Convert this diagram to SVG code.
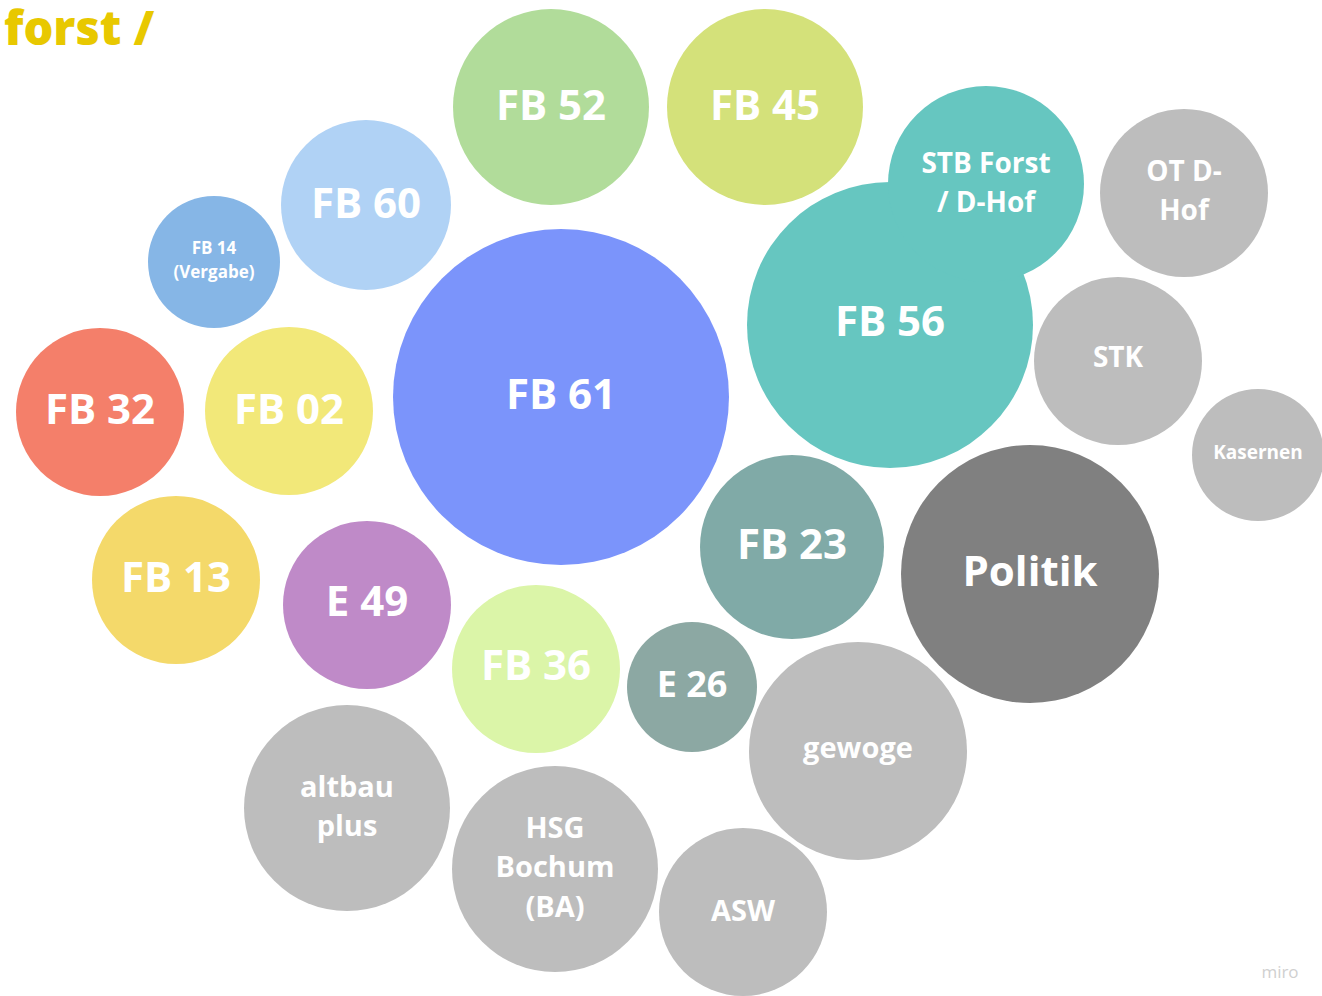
<svg xmlns="http://www.w3.org/2000/svg" width="1322" height="996" viewBox="0 0 1322 996">
<style>
text{font-family:"Open Sans","Noto Sans","Liberation Sans",sans-serif;font-weight:700;fill:#ffffff;text-anchor:middle;dominant-baseline:central}
.gray{fill:#BDBDBD}
.teal{fill:#66C6C0}
</style>
<rect width="1322" height="996" fill="#ffffff"/>
<text x="4" y="45" style="fill:#E8C800;font-size:47px;text-anchor:start;font-weight:800;dominant-baseline:auto">forst /</text>
<g id="fb52"><circle cx="551" cy="107" r="98" fill="#B1DC9A"/><text x="551" y="103" font-size="42">FB 52</text></g>
<g id="fb45"><circle cx="765" cy="107" r="98" fill="#D4E17A"/><text x="765" y="103" font-size="42">FB 45</text></g>
<g id="fb60"><circle cx="366" cy="205" r="85" fill="#B0D2F5"/><text x="366" y="201" font-size="42">FB 60</text></g>
<g id="fb14"><circle cx="214" cy="262" r="66" fill="#86B6E6"/><text x="214" y="247" font-size="17">FB 14</text><text x="214" y="271" font-size="17">(Vergabe)</text></g>
<g id="fb61"><circle cx="561" cy="397" r="168" fill="#7B94FB"/><text x="561" y="392" font-size="42">FB 61</text></g>
<g id="fb56"><circle cx="890" cy="325" r="143" class="teal"/><text x="890" y="319" font-size="42">FB 56</text></g>
<g id="stb"><circle cx="986" cy="184" r="98" class="teal"/><text x="986" y="162" font-size="28">STB Forst</text><text x="986" y="201" font-size="28">/ D-Hof</text></g>
<g id="otdhof"><circle cx="1184" cy="193" r="84" class="gray"/><text x="1184" y="170" font-size="28">OT D-</text><text x="1184" y="209" font-size="28">Hof</text></g>
<g id="stk"><circle cx="1118" cy="361" r="84" class="gray"/><text x="1118" y="356" font-size="28">STK</text></g>
<g id="kasernen"><circle cx="1258" cy="455" r="66" class="gray"/><text x="1258" y="452" font-size="19">Kasernen</text></g>
<g id="fb32"><circle cx="100" cy="412" r="84" fill="#F47F6A"/><text x="100" y="407" font-size="42">FB 32</text></g>
<g id="fb02"><circle cx="289" cy="411" r="84" fill="#F2E879"/><text x="289" y="407" font-size="42">FB 02</text></g>
<g id="fb13"><circle cx="176" cy="580" r="84" fill="#F4D96A"/><text x="176" y="575" font-size="42">FB 13</text></g>
<g id="e49"><circle cx="367" cy="605" r="84" fill="#BF8AC8"/><text x="367" y="599" font-size="42">E 49</text></g>
<g id="fb36"><circle cx="536" cy="669" r="84" fill="#DBF5A8"/><text x="536" y="663" font-size="42">FB 36</text></g>
<g id="e26"><circle cx="692" cy="687" r="65" fill="#8CA8A3"/><text x="692" y="683" font-size="36">E 26</text></g>
<g id="fb23"><circle cx="792" cy="547" r="92" fill="#80AAA7"/><text x="792" y="542" font-size="42">FB 23</text></g>
<g id="politik"><circle cx="1030" cy="574" r="129" fill="#808080"/><text x="1030" y="569" font-size="42">Politik</text></g>
<g id="gewoge"><circle cx="858" cy="751" r="109" class="gray"/><text x="858" y="746" font-size="29">gewoge</text></g>
<g id="altbau"><circle cx="347" cy="808" r="103" class="gray"/><text x="347" y="785" font-size="29">altbau</text><text x="347" y="824" font-size="29">plus</text></g>
<g id="hsg"><circle cx="555" cy="869" r="103" class="gray"/><text x="555" y="826" font-size="29">HSG</text><text x="555" y="865" font-size="29">Bochum</text><text x="555" y="905" font-size="29">(BA)</text></g>
<g id="asw"><circle cx="743" cy="912" r="84" class="gray"/><text x="743" y="909" font-size="29">ASW</text></g>
<text x="1280" y="971" style="fill:#D0D0D0;font-size:17px;font-weight:400">miro</text>
<g id="connectors"></g>
</svg>
